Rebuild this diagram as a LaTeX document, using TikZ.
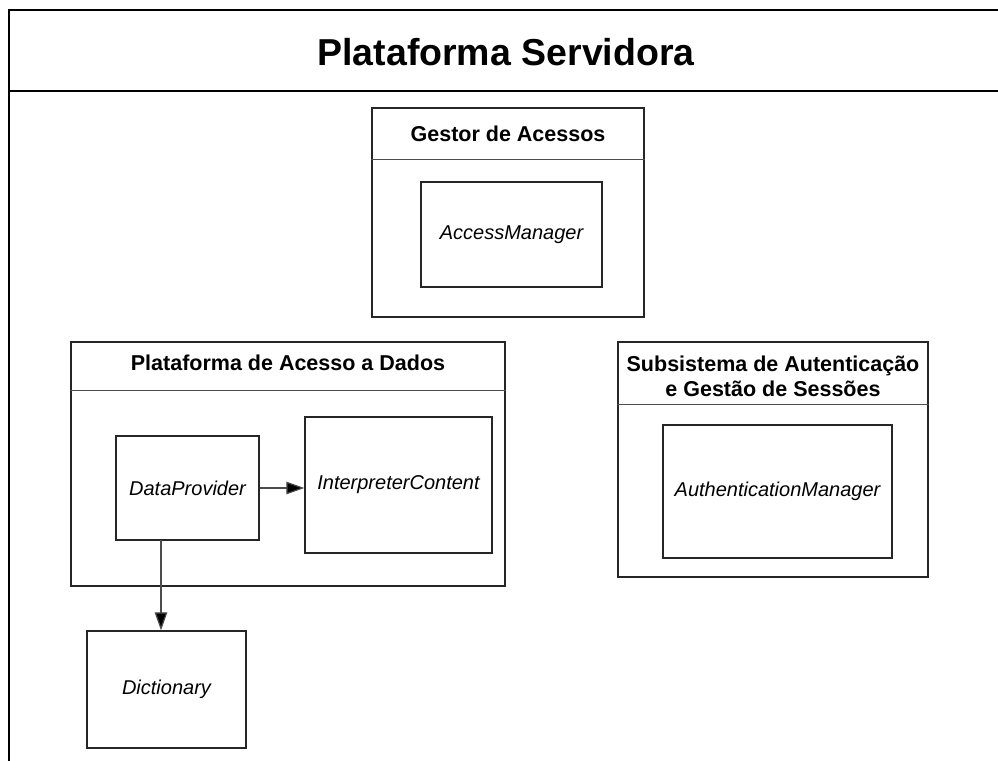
\documentclass[tikz,border=0pt]{standalone}
\usepackage{fontspec}
\setmainfont{Liberation Sans}
\usetikzlibrary{arrows.meta}
\tikzset{
  frameline/.style={line width=2.4pt, draw=black},
  pkgbox/.style={draw=black!85, line width=1.3pt, inner sep=0pt},
  classbox/.style={draw=black!85, line width=1.3pt, inner sep=0pt,
    font=\fontsize{20}{24}\selectfont\itshape},
  pkgtitle/.style={font=\fontsize{21.5}{25}\selectfont\bfseries, align=center, inner sep=0pt},
  divider/.style={draw=black!70, line width=1pt},
  link/.style={draw=black!70, line width=1.2pt,
    -{Triangle[length=18pt, width=12.5pt, fill=black]}},
}
\begin{document}
\begin{tikzpicture}[x=1pt, y=-1pt]
\useasboundingbox (0,0) rectangle (998,760);

% outer frame of the server platform
\draw[frameline] (9,762) -- (9,10) -- (1000,10);
\draw[frameline] (9,91) -- (1000,91);
\node[font=\fontsize{37.5}{42}\selectfont\bfseries] (main) at (506,52) {Plataforma Servidora};

% access manager package
\node[pkgbox, minimum width=272pt, minimum height=209pt] (gestor) at (508,212.5) {};
\draw[divider] (gestor.west |- 0,159) -- (gestor.east |- 0,159);
\node[pkgtitle] (gestorT) at (508,134) {Gestor de Acessos};
\node[classbox, minimum width=181pt, minimum height=105pt] (am) at (511.5,234.5) {AccessManager};

% data access platform package
\node[pkgbox, minimum width=434pt, minimum height=244pt] (pad) at (288,464) {};
\draw[divider] (pad.west |- 0,390) -- (pad.east |- 0,390);
\node[pkgtitle] (padT) at (288,363) {Plataforma de Acesso a Dados};
\node[classbox, minimum width=143pt, minimum height=104pt] (dp) at (187.5,488) {DataProvider};
\node[classbox, minimum width=187pt, minimum height=136pt] (ic) at (398.5,485) {InterpreterContent};

% authentication and session subsystem
\node[pkgbox, minimum width=310pt, minimum height=235pt] (auth) at (773,459.5) {};
\draw[divider] (auth.west |- 0,404) -- (auth.east |- 0,404);
\node[pkgtitle] (authT) at (773,376) {Subsistema de Autenticação\\e Gestão de Sessões};
\node[classbox, minimum width=229pt, minimum height=133pt] (authm) at (777.5,491.5) {AuthenticationManager};

% dictionary class outside the packages
\node[classbox, minimum width=159pt, minimum height=117pt] (dict) at (166.5,689.5) {Dictionary};

% dependencies
\coordinate (dpout) at (161,540);
\draw[link] (dp.east) -- (dp.east -| ic.west);
\draw[link] (dpout) -- (dpout |- dict.north);
\end{tikzpicture}
\end{document}
